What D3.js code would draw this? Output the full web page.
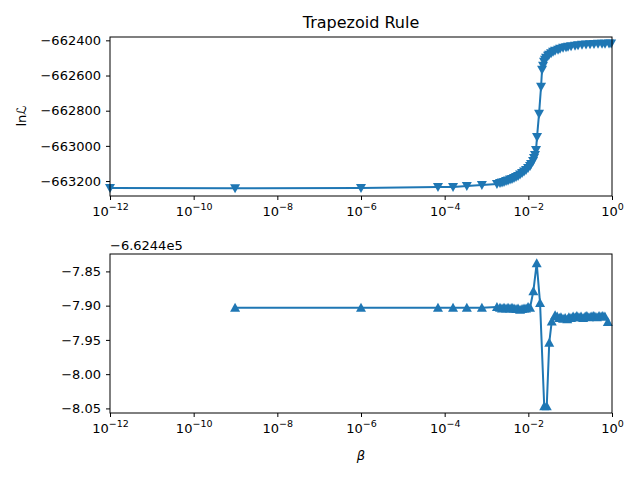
<!DOCTYPE html>
<html>
<head>
<meta charset="utf-8">
<script src="https://cdnjs.cloudflare.com/ajax/libs/d3/7.8.5/d3.min.js"></script>
<style>
  body { margin: 0; background: #fff; }
  text { font-family: "DejaVu Sans", sans-serif; }
</style>
</head>
<body>
<svg id="chart" width="640" height="480"></svg>
<script>
// top panel: log10(beta) and ln L
const topLogBeta = [-12, -9.01, -6.0, -4.16, -3.80, -3.47, -3.11, -2.75,
  -2.677, -2.629, -2.581, -2.533, -2.485, -2.437, -2.390, -2.342, -2.294, -2.246,
  -2.198, -2.150, -2.103, -2.055, -2.007, -1.959, -1.935, -1.887, -1.864, -1.840,
  -1.816, -1.792, -1.744, -1.696, -1.672, -1.648, -1.625, -1.601, -1.577, -1.529,
  -1.505, -1.457, -1.409, -1.362, -1.290, -1.242, -1.170, -1.099, -1.051, -0.979,
  -0.884, -0.812, -0.717, -0.621, -0.525, -0.430, -0.334, -0.238, -0.167, -0.071, -0.02];
const topLnL = [-663240, -663241, -663240, -663234, -663234, -663228, -663223, -663217,
  -663211, -663208, -663205, -663200, -663197, -663191, -663188, -663183, -663177, -663171,
  -663163, -663154, -663146, -663137, -663126, -663114, -663103, -663086, -663069, -663052,
  -663023, -662949, -662818, -662664, -662567, -662545, -662522, -662510, -662499, -662488,
  -662482, -662473, -662465, -662459, -662453, -662448, -662442, -662439, -662436, -662433,
  -662431, -662428, -662425, -662424, -662422, -662421, -662419, -662419, -662419, -662418, -662418];

// bottom panel: values relative to offset -6.6244e5
const botLogBeta = [-9.01, -6.0, -4.16, -3.80, -3.47, -3.11, -2.75,
  -2.677, -2.629, -2.581, -2.533, -2.485, -2.437, -2.390, -2.342, -2.294, -2.246,
  -2.198, -2.150, -2.103, -2.055, -2.007, -1.959,
  -1.88, -1.80, -1.72, -1.62, -1.56, -1.50, -1.44, -1.36,
  -1.31, -1.26, -1.22, -1.17, -1.12, -1.07, -1.03, -0.98, -0.93, -0.88, -0.84,
  -0.79, -0.74, -0.69, -0.64, -0.60, -0.55, -0.50, -0.45, -0.41, -0.36, -0.31,
  -0.26, -0.22, -0.17, -0.10];
const botDelta = [-7.903, -7.903, -7.903, -7.903, -7.903, -7.903, -7.902,
  -7.903, -7.904, -7.903, -7.904, -7.903, -7.904, -7.903, -7.904, -7.905, -7.904,
  -7.906, -7.905, -7.904, -7.904, -7.902, -7.903,
  -7.879, -7.838, -7.896, -8.047, -8.047, -7.954, -7.923, -7.914,
  -7.916, -7.918, -7.917, -7.919, -7.918, -7.920, -7.917, -7.918, -7.916, -7.917, -7.915,
  -7.917, -7.916, -7.918, -7.916, -7.915, -7.917, -7.916, -7.915, -7.916, -7.917, -7.915,
  -7.916, -7.915, -7.916, -7.924];

const xTicks = [-12, -10, -8, -6, -4, -2, 0];
const topYTicks = [-662400, -662600, -662800, -663000, -663200];
const botYTicks = [-7.85, -7.90, -7.95, -8.00, -8.05];

const svg = d3.select("#chart");
const color = "#1f77b4";
const left = 110, right = 612;
const minus = s => s.replace("-", "\u2212");

function panel(y0, y1, xs, ys, yDomain, yTicks, yFmt, sym) {
  const x = d3.scaleLog().domain([1e-12, 1]).range([left, right]);
  const y = d3.scaleLinear().domain(yDomain).range([y1, y0]);
  const g = svg.append("g");
  const pts = xs.map((e, i) => [Math.pow(10, e), ys[i]]);

  g.append("path").datum(pts)
    .attr("fill", "none").attr("stroke", color).attr("stroke-width", 2)
    .attr("d", d3.line().x(d => x(d[0])).y(d => y(d[1])));
  g.selectAll(".m").data(pts).join("path")
    .attr("fill", color)
    .attr("transform", d => `translate(${x(d[0])},${y(d[1])})`)
    .attr("d", sym);

  const xa = g.append("g").attr("transform", `translate(0,${y1})`)
    .call(d3.axisBottom(x).tickValues(xTicks.map(e => Math.pow(10, e))).tickSize(4).tickFormat(""));
  xa.selectAll(".tick").append("text")
    .attr("y", 20).attr("fill", "#000").attr("text-anchor", "middle").attr("font-size", 13)
    .each(function(d) {
      const t = d3.select(this);
      t.append("tspan").text("10");
      t.append("tspan").attr("dy", -6).attr("font-size", 9.5)
        .text(minus(String(Math.round(Math.log10(d)))));
    });
  const ya = g.append("g").attr("transform", `translate(${left},0)`)
    .call(d3.axisLeft(y).tickValues(yTicks).tickSize(4).tickFormat(yFmt));
  ya.selectAll("text").attr("font-size", 13).attr("fill", "#000").attr("dx", -2);
  g.selectAll(".domain").remove();
  g.selectAll(".tick line").attr("stroke", "#000");
  g.append("rect").attr("x", left).attr("y", y0).attr("width", right - left).attr("height", y1 - y0)
    .attr("fill", "none").attr("stroke", "#000").attr("stroke-width", 1);
}

const down = "M-5,-4L5,-4L0,5Z";
const up = "M-5,4L5,4L0,-5Z";

panel(37, 196, topLogBeta, topLnL, [-663285, -662381], topYTicks, d => minus(String(d)), down);
panel(254, 413, botLogBeta, botDelta, [-8.0567, -7.8246], botYTicks, d => "\u2212" + Math.abs(d).toFixed(2), up);

svg.append("text").attr("x", 361).attr("y", 28).attr("text-anchor", "middle")
  .attr("font-size", 16).text("Trapezoid Rule");
svg.append("text").attr("transform", "translate(26,116) rotate(-90)").attr("text-anchor", "middle")
  .attr("font-size", 13).text("ln\u2112");
svg.append("text").attr("x", 110).attr("y", 250).attr("font-size", 13).text("\u22126.6244e5");
svg.append("text").attr("x", 361).attr("y", 460).attr("text-anchor", "middle")
  .attr("font-size", 13).attr("font-style", "italic").text("\u03b2");
</script>
</body>
</html>
